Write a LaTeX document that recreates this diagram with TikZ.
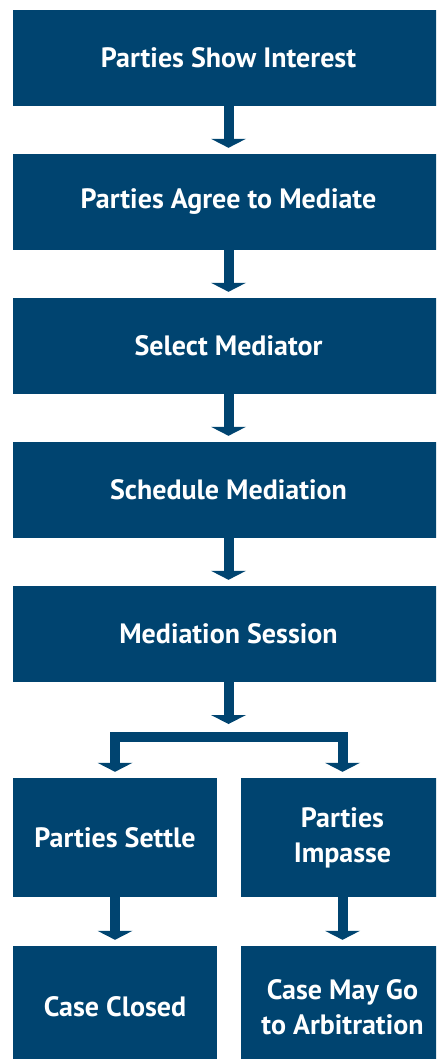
\documentclass[tikz,border=0pt]{standalone}
\usepackage{fontspec}
\setmainfont{PT Sans}
\usetikzlibrary{arrows.meta}
\definecolor{mednavy}{HTML}{004470}
\begin{document}
\begin{tikzpicture}[x=1pt,y=-1pt,every node/.style={font=\bfseries\fontsize{28}{35}\selectfont,text=white,align=center,inner sep=0pt},
	stage/.style={fill=mednavy,minimum width=431pt,minimum height=96pt},
	branchbox/.style={fill=mednavy,minimum width=204pt,minimum height=119pt},
	endbox/.style={fill=mednavy,minimum width=204pt,minimum height=122pt},
	>={Triangle[width=35pt,length=9pt,line width=0pt]},
	flow/.style={draw=mednavy,line width=10pt,line join=miter,shorten >=6pt}]
		\clip(0,0)rectangle(436,1059);
		\node[stage](show)at(228.5,58){Parties Show Interest};
		\node[stage](agree)at(228.5,202){Parties Agree to Mediate};
		\node[stage](select)at(228.5,346){Select Mediator};
		\node[stage](schedule)at(228.5,490){Schedule Mediation};
		\node[stage](session)at(228.5,634){Mediation Session};
		\node[branchbox](settle)at(115,837.5){Parties Settle};
		\node[branchbox](impasse)at(342.5,837.5){Parties\\Impasse};
		\node[endbox](closed)at(115,1007){Case Closed};
		\node[endbox](arbitration)at(342.5,1007){Case May Go\\to Arbitration};
		\coordinate(split)at(228.5,730);
		\coordinate(bar)at(228.5,736.5);
		\foreach\a/\b in{show/agree,agree/select,select/schedule,schedule/session,session/split,settle/closed,impasse/arbitration}{\draw[flow,->](\a)--(\b);}
		\draw[flow,<->,shorten <=6pt](settle.north)|-(bar)-|(impasse.north);
		\end{tikzpicture}
\end{document}
